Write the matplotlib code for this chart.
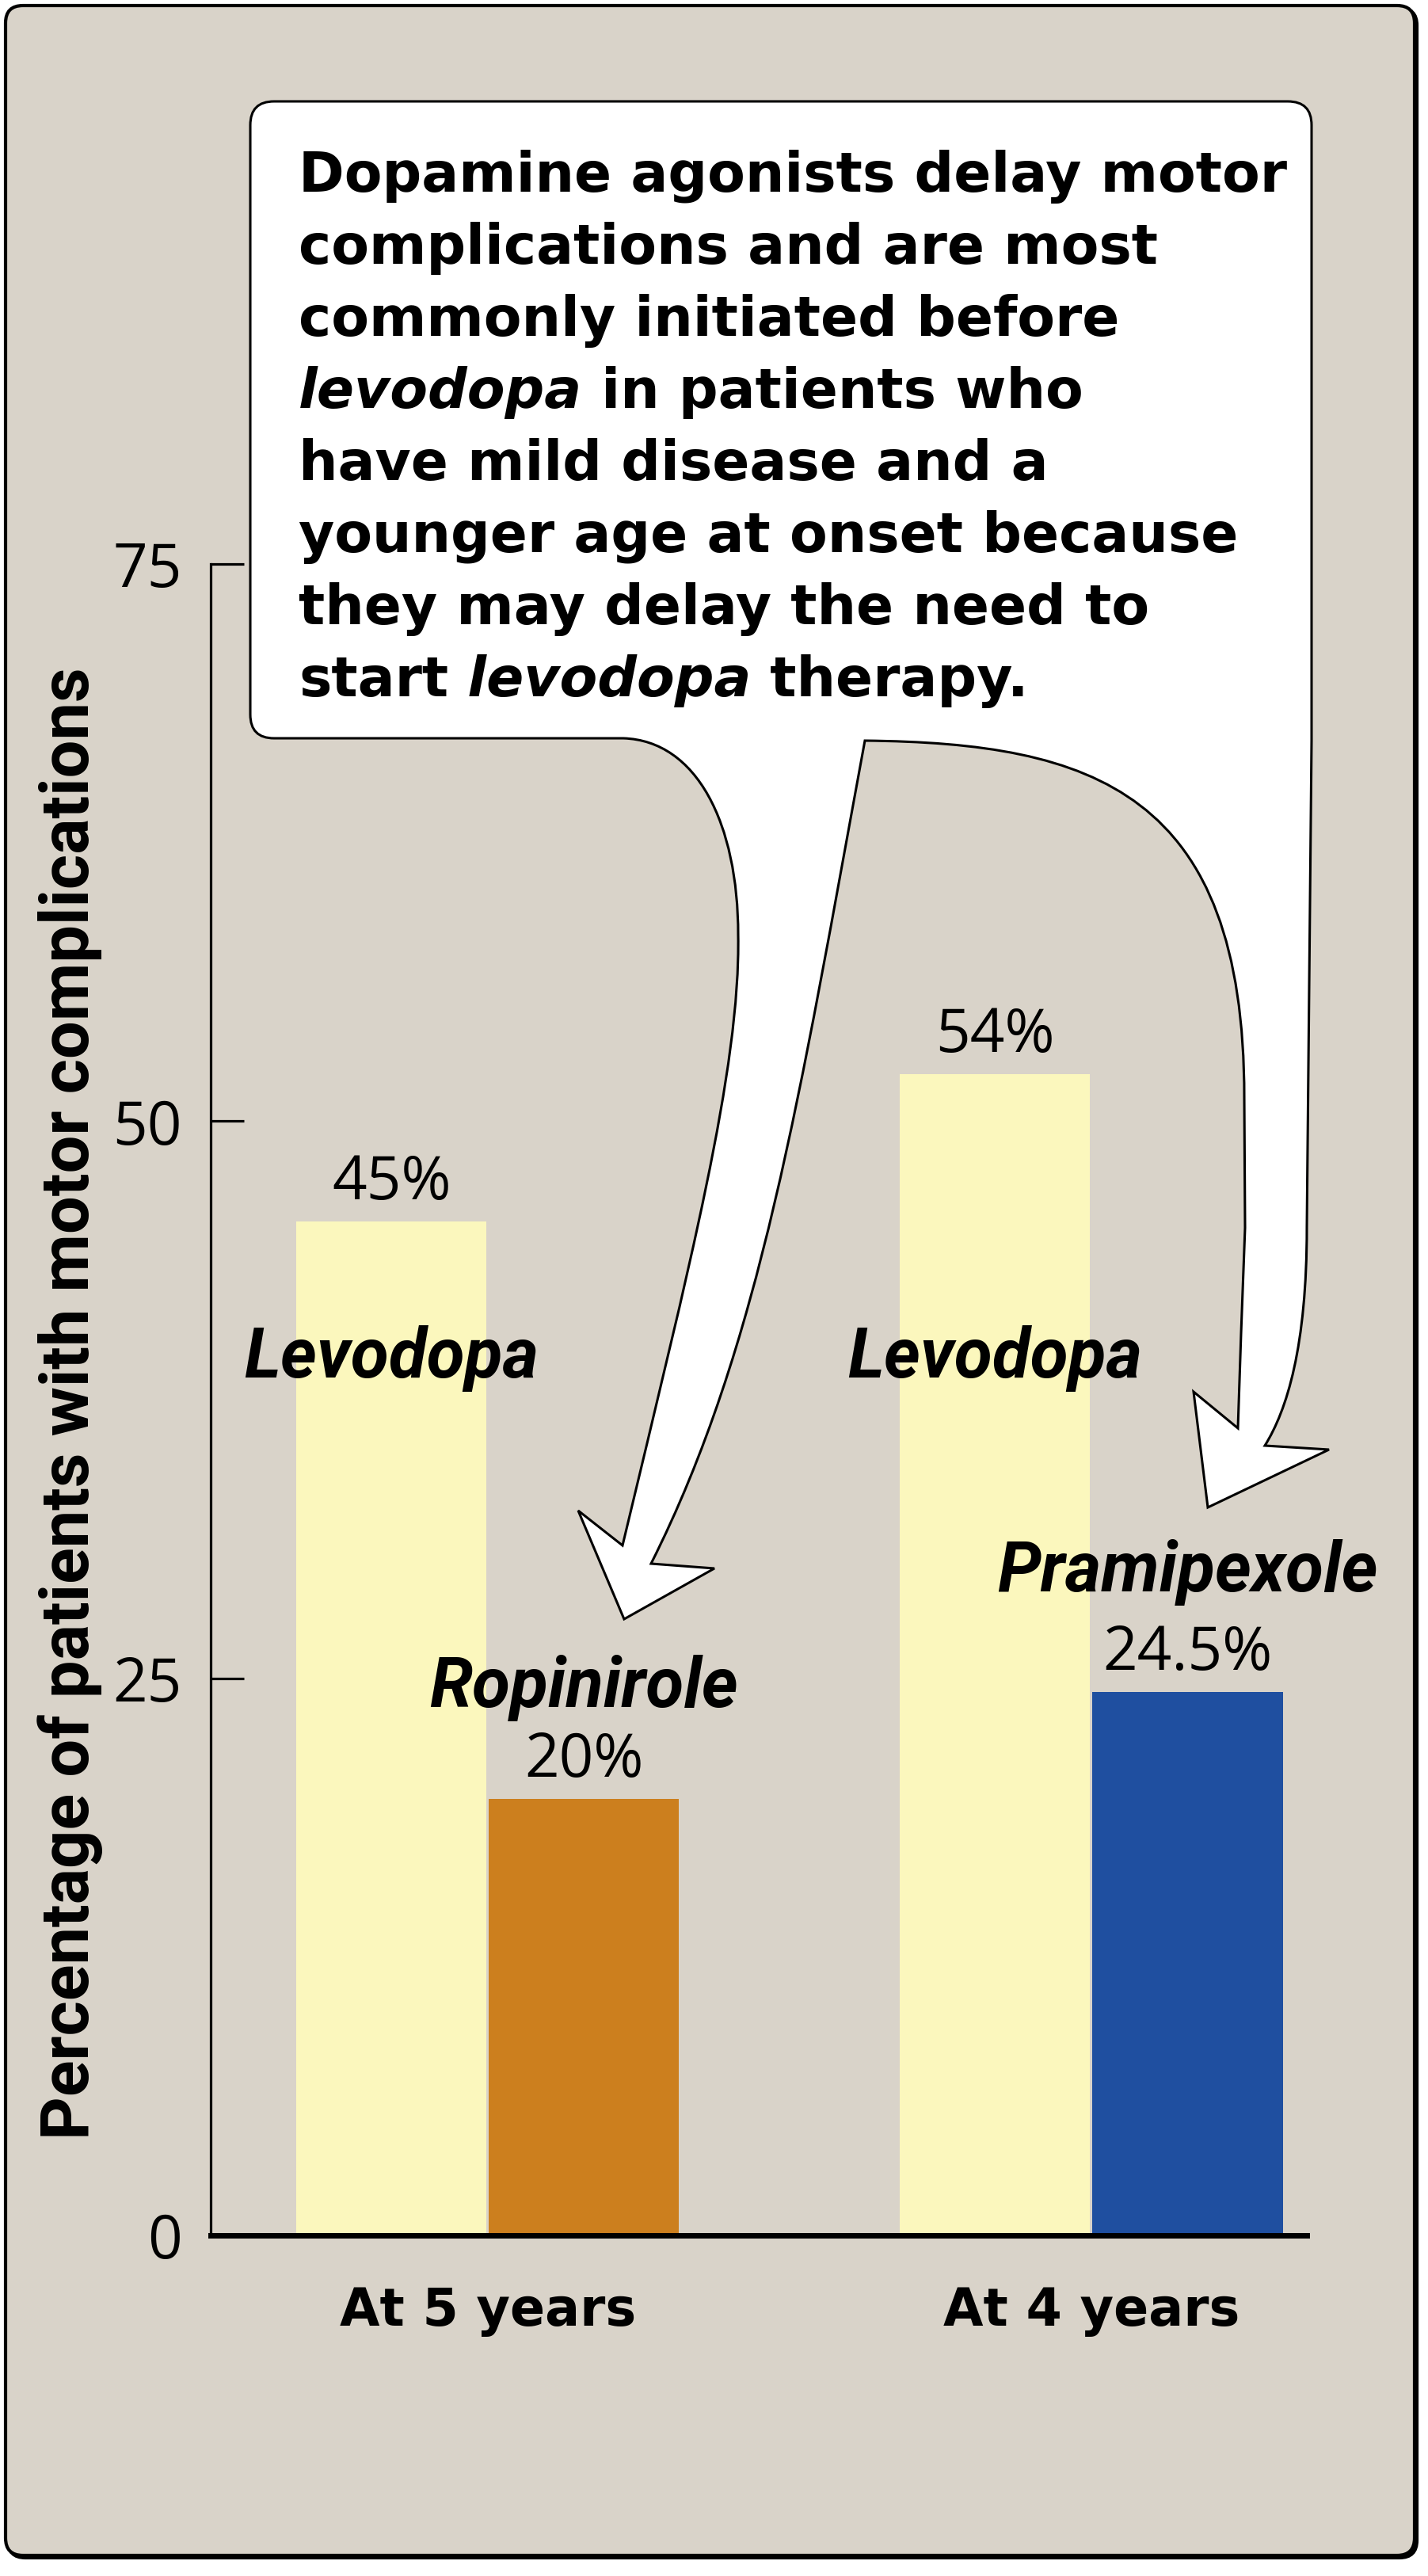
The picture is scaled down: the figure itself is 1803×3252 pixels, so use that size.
import matplotlib
matplotlib.use('Agg')
import matplotlib.pyplot as plt
from matplotlib.patches import FancyBboxPatch, PathPatch
from matplotlib.path import Path
from matplotlib.transforms import Affine2D

# --- chart data ---
groups = ['At 5 years', 'At 4 years']
drugs = ['Levodopa', 'Ropinirole', 'Levodopa', 'Pramipexole']
bar_group = [0, 0, 1, 1]
bar_side = [-1, 1, -1, 1]
bar_heights = [45.5, 19.6, 52.1, 24.4]
value_labels = ['45%', '20%', '54%', '24.5%']
bar_colors = ['#fbf7bd', '#cc7f1e', '#fbf7bd', '#1f4fa0']
y_ticks = [0, 25, 50, 75]
y_label = 'Percentage of patients with motor complications'

# callout text, (segment, italic) per line
callout_lines = [
    [('Dopamine agonists delay motor', False)],
    [('complications and are most', False)],
    [('commonly initiated before', False)],
    [('levodopa', True), (' in patients who', False)],
    [('have mild disease and a', False)],
    [('younger age at onset because', False)],
    [('they may delay the need to', False)],
    [('start', False), (' levodopa', True), (' therapy.', False)],
]

# --- layout (pixels of the 1803x3252 canvas, y measured from the top) ---
W, H = 1803, 3252
BG = '#d9d3c9'
name_y = [38.5, 23.7, 38.5, 28.9]   # baseline of drug names, data units
bar_offset = 0.1595
bar_width = 0.315

fig = plt.figure(figsize=(W / 100, H / 100), dpi=100)
fig.patch.set_facecolor('white')
px = Affine2D().scale(1.0 / W, -1.0 / H).translate(0, 1) + fig.transFigure

# Outer rounded frame, with a small dark shadow on the right and bottom
shadow = FancyBboxPatch((10, 10), 1779, 3219, boxstyle='round,pad=0,rounding_size=22',
                        transform=px, facecolor='black', edgecolor='black',
                        linewidth=3, zorder=0)
fig.add_artist(shadow)
frame = FancyBboxPatch((7, 7), 1779, 3219, boxstyle='round,pad=0,rounding_size=22',
                       transform=px, facecolor=BG, edgecolor='black',
                       linewidth=3, zorder=0)
fig.add_artist(frame)

# Axes
ax = fig.add_axes([266 / W, 1 - 2822 / H, (1650 - 266) / W, (2822 - 712) / H])
ax.patch.set_visible(False)
ax.set_xlim(-0.459, 1.357)
ax.set_ylim(0, 75)

x = [g + s * bar_offset for g, s in zip(bar_group, bar_side)]
ax.bar(x, bar_heights, width=bar_width, color=bar_colors, zorder=2)

for s in ['top', 'right']:
    ax.spines[s].set_visible(False)
ax.spines['left'].set_linewidth(2.3)
ax.spines['bottom'].set_linewidth(5)
ax.spines['bottom'].set_zorder(3)

ax.set_yticks(y_ticks)
ax.set_yticklabels([str(t) for t in y_ticks], fontfamily='Open Sans', fontsize=55)
ax.tick_params(axis='y', direction='in', length=30, width=2.3, pad=26)
ax.set_xticks([0, 1])
ax.set_xticklabels(groups, fontfamily='DejaVu Sans', fontweight='bold', fontsize=47)
ax.tick_params(axis='x', length=0, pad=46)

fig.text(112 / W, 1 - 1772 / H, y_label, rotation=90, rotation_mode='anchor',
         ha='center', va='baseline', fontfamily='Roboto', fontweight='bold',
         fontsize=61)

# Value labels above the bars
for xi, h, lab in zip(x, bar_heights, value_labels):
    ax.annotate(lab, (xi, h), xytext=(0, 20), textcoords='offset points',
                ha='center', va='baseline', fontfamily='Open Sans', fontsize=55)

# Drug names
for xi, yi, name in zip(x, name_y, drugs):
    ax.text(xi, yi, name, ha='center', va='baseline', fontfamily='Roboto',
            fontweight='bold', fontstyle='italic', fontsize=63, zorder=4)

# Callout box with the two arrows, as one outline
r = 30
M, L, C3, C4 = Path.MOVETO, Path.LINETO, Path.CURVE3, Path.CURVE4
verts = [
    ((316 + r, 128), M), ((1656 - r, 128), L),
    ((1656, 128), C3), ((1656, 128 + r), C3),
    ((1656, 935), L), ((1650, 1550), L),
    ((1650, 1700), C4), ((1625, 1780), C4), ((1597, 1825), C4),
    ((1678, 1830), L), ((1525, 1903), L), ((1507, 1757), L), ((1563, 1803), L),
    ((1567, 1683), L), ((1572, 1550), L), ((1571, 1385), L),
    ((1571, 1000), C4), ((1380, 938), C4), ((1092, 935), C4),
    ((1010, 1380), C4), ((960, 1700), C4), ((822, 1974), C4),
    ((902, 1980), L), ((788, 2044), L), ((730, 1907), L), ((786, 1951), L),
    ((870, 1600), C4), ((935, 1350), C4), ((932, 1180), C4),
    ((932, 1040), C4), ((880, 935), C4), ((787, 932), C4),
    ((316 + r, 932), L),
    ((316, 932), C3), ((316, 932 - r), C3),
    ((316, 128 + r), L),
    ((316, 128), C3), ((316 + r, 128), C3),
    ((316 + r, 128), Path.CLOSEPOLY),
]
callout = Path([v for v, _ in verts], [c for _, c in verts])
fig.add_artist(PathPatch(callout, transform=px, facecolor='white',
                         edgecolor='black', linewidth=2.2, zorder=5))

# Callout text, segments chained along each line
renderer = fig.canvas.get_renderer()
for i, line in enumerate(callout_lines):
    xpos = 377
    ypos = 242 + i * 91.0
    for seg, italic in line:
        t = fig.text(xpos, ypos, seg, transform=px, ha='left', va='baseline',
                     fontfamily='DejaVu Sans', fontweight='bold',
                     fontstyle='oblique' if italic else 'normal',
                     fontsize=50, zorder=6)
        xpos = t.get_window_extent(renderer).x1

fig.savefig('out.png', dpi=100, facecolor='white')
